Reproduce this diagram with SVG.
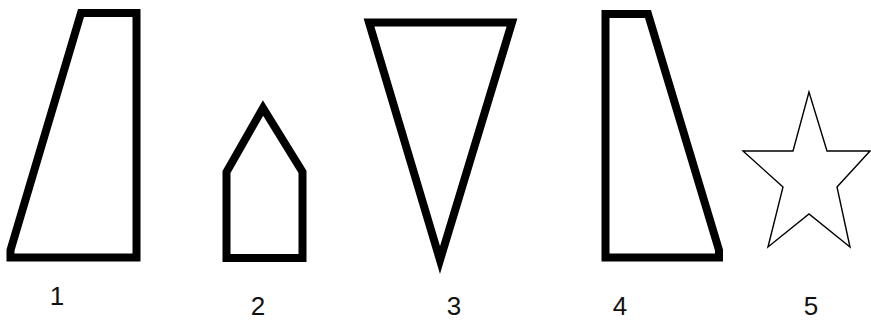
<svg xmlns="http://www.w3.org/2000/svg" width="871" height="321" viewBox="0 0 871 321">
<style>
.thick{fill:none;stroke:#000;stroke-width:8;stroke-linejoin:miter;stroke-miterlimit:10}
.thin{fill:none;stroke:#000;stroke-width:1.4;stroke-linejoin:miter}
.lbl{font-family:"Liberation Sans",Arial,sans-serif;font-size:26px;fill:#111;text-anchor:middle}
</style>
<rect width="871" height="321" fill="#fff"/>
<g id="shape1">
<polygon class="thick" points="81,13 136.5,13 136.5,257.5 10.5,257.5 10.5,250"/>
<text class="lbl" x="57" y="305">1</text>
</g>
<g id="shape2">
<polygon class="thick" points="226.5,258 226.5,172 263,108 302.5,172 302.5,258"/>
<text class="lbl" x="258" y="315">2</text>
</g>
<g id="shape3">
<polygon class="thick" points="369,22.5 512,22.5 440,260"/>
<text class="lbl" x="454" y="315">3</text>
</g>
<g id="shape4">
<polygon class="thick" points="605.5,14 648,14 719,250 719,257.5 605.5,257.5"/>
<text class="lbl" x="620" y="315">4</text>
</g>
<g id="shape5">
<polygon class="thin" points="809,92 793,151 743,151 783,187 768,247 809,214 850,247 837,187 870,151 827,151"/>
<text class="lbl" x="811" y="315">5</text>
</g>
</svg>
